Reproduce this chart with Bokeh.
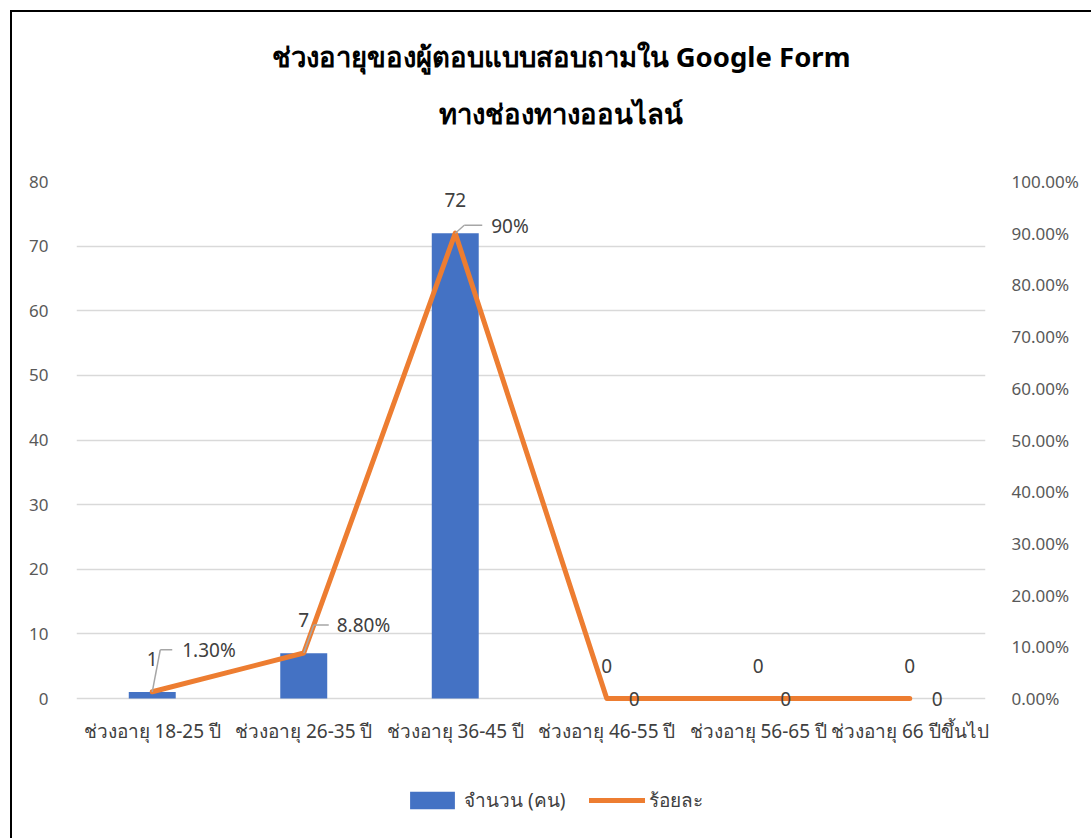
from bokeh.plotting import figure
from bokeh.models import (Range1d, LinearAxis, FixedTicker, NumeralTickFormatter,
                          ColumnDataSource, LabelSet, Legend, LegendItem, Title)
from bokeh.core.properties import value
from bokeh.embed import file_html
from bokeh.resources import INLINE

# ---- data ----
categories = ["ช่วงอายุ 18-25 ปี", "ช่วงอายุ 26-35 ปี", "ช่วงอายุ 36-45 ปี",
              "ช่วงอายุ 46-55 ปี", "ช่วงอายุ 56-65 ปี", "ช่วงอายุ 66 ปีขึ้นไป"]
counts = [1, 7, 72, 0, 0, 0]
percents = [0.013, 0.088, 0.90, 0.0, 0.0, 0.0]
count_labels = ["1", "7", "72", "0", "0", "0"]
percent_labels = ["1.30%", "8.80%", "90%", "0", "0", "0"]
left_ticks = [0, 10, 20, 30, 40, 50, 60, 70, 80]
right_ticks = [0.0, 0.1, 0.2, 0.3, 0.4, 0.5, 0.6, 0.7, 0.8, 0.9, 1.0]
title_line1 = "ช่วงอายุของผู้ตอบแบบสอบถามใน Google Form"
title_line2 = "ทางช่องทางออนไลน์"
series_names = ["จำนวน (คน)", "ร้อยละ"]

# ---- layout / style ----
MARGIN = 10
FRAME_L, FRAME_T, FRAME_W = 76, 181, 909
PLOT_H = 517               # height of the 0..80 value band
PAD_B = 114                # frame continues below zero: room for labels + legend
FRAME_H = PLOT_H + PAD_B
BORDER_L = FRAME_L - MARGIN
BORDER_T = FRAME_T - MARGIN
BORDER_R = 1091 - FRAME_L - FRAME_W
BORDER_B = 838 - FRAME_T - FRAME_H
XLABEL_STANDOFF = -101
BAR_COLOR = "#4472C4"
LINE_COLOR = "#ED7D31"
TXT = "#404040"
AX_TXT = "#595959"
THAI_FONT = "Noto Sans"
NUM_FONT = "Noto Sans"

n = len(categories)
xs = list(range(n))
px_x = FRAME_W / n          # pixels per x unit
px_p = PLOT_H / 1.0         # pixels per percent unit (0..1)
px_c = PLOT_H / 80.0        # pixels per count unit

# label offsets in pixels (left edge, vertical centre)
pct_dx = [30, 33, 36, 22, 22, 22]
pct_dy = [42, 28, 7, 0, 0, 0]
# leader lines (pixel offsets): elbow & end point
lead_ex = [8, 10, 9]
lead_ey = [42, 28, 8]
lead_hx = [20, 25, 27]

src = ColumnDataSource(dict(x=xs, count=counts, pct=percents,
                            clab=count_labels, plab=percent_labels,
                            pdx=pct_dx, pdy=pct_dy, cdy=[33] * n))

p = figure(frame_width=FRAME_W, frame_height=FRAME_H,
           x_range=Range1d(-0.5, n - 0.5), y_range=Range1d(-PAD_B / px_c, 80),
           output_backend="svg", toolbar_location=None,
           min_border_left=BORDER_L, min_border_right=BORDER_R,
           min_border_top=BORDER_T, min_border_bottom=BORDER_B)
p.margin = (MARGIN, 0, 0, MARGIN)
p.styles = {"box-shadow": "inset 2px 2px 0 0 black"}
p.extra_y_ranges = {"pct": Range1d(-PAD_B / px_p, 1)}
p.outline_line_color = None
p.background_fill_color = "white"
p.border_fill_color = None

# axes
p.xaxis.ticker = FixedTicker(ticks=xs)
p.xaxis.major_label_overrides = {i: c for i, c in enumerate(categories)}
p.xaxis.major_label_text_font = THAI_FONT
p.xaxis.major_label_text_font_size = "19px"
p.xaxis.major_label_text_color = TXT
p.xaxis.major_label_standoff = XLABEL_STANDOFF
p.yaxis.ticker = FixedTicker(ticks=left_ticks)
p.yaxis.major_label_text_font = NUM_FONT
p.yaxis.major_label_text_font_size = "17px"
p.yaxis.major_label_text_color = AX_TXT
p.yaxis.major_label_standoff = 22

rax = LinearAxis(y_range_name="pct", ticker=FixedTicker(ticks=right_ticks),
                 formatter=NumeralTickFormatter(format="0.00%"))
rax.major_label_text_font = NUM_FONT
rax.major_label_text_font_size = "17px"
rax.major_label_text_color = AX_TXT
rax.major_label_standoff = 20
p.add_layout(rax, "right")

for ax in [p.xaxis[0], p.yaxis[0], rax]:
    ax.axis_line_color = None
    ax.major_tick_line_color = None
    ax.minor_tick_line_color = None

p.xgrid.grid_line_color = None
p.ygrid.ticker = FixedTicker(ticks=left_ticks)
p.ygrid.grid_line_color = "#d9d9d9"
p.ygrid.grid_line_width = 1.5

# glyphs
bars = p.vbar(x="x", top="count", width=0.31, source=src, fill_color=BAR_COLOR,
              line_color=None)
line = p.line(x="x", y="pct", source=src, y_range_name="pct", line_color=LINE_COLOR,
              line_width=5, line_join="round", line_cap="round")

# leader lines
lx0, ly0, lx1, ly1, lx2, ly2 = [], [], [], [], [], []
for i in range(3):
    lx0.append(xs[i]); ly0.append(percents[i])
    ex = xs[i] + lead_ex[i] / px_x
    ey = percents[i] + lead_ey[i] / px_p
    hx = xs[i] + lead_hx[i] / px_x
    lx1.append(ex); ly1.append(ey); lx2.append(hx); ly2.append(ey)
p.segment(x0=lx0, y0=ly0, x1=lx1, y1=ly1, y_range_name="pct", line_color="#a6a6a6", line_width=1.5)
p.segment(x0=lx1, y0=ly1, x1=lx2, y1=ly2, y_range_name="pct", line_color="#a6a6a6", line_width=1.5)

# data labels
p.add_layout(LabelSet(x="x", y="count", text="clab", source=src, y_offset="cdy",
                      text_align="center", text_baseline="middle",
                      text_font=value(NUM_FONT), text_font_size="19px", text_color=TXT))
p.add_layout(LabelSet(x="x", y="pct", text="plab", source=src, y_range_name="pct",
                      x_offset="pdx", y_offset="pdy",
                      text_align="left", text_baseline="middle",
                      text_font=value(NUM_FONT), text_font_size="19px", text_color=TXT))

# titles: stacked top->bottom: line 1, line 2, spacer next to the frame
p.title.text = title_line1
p.title.align = "left"
p.title.offset = 195
p.title.text_font = THAI_FONT
p.title.text_font_size = "27.5px"
p.title.text_font_style = "bold"
p.title.text_color = "black"
p.title.standoff = 36
p.add_layout(Title(text=" ", align="left", text_font_size="27.5px", standoff=17), "above")
p.add_layout(Title(text=title_line2, align="left", offset=362, text_font=THAI_FONT,
                   text_font_size="27.5px", text_font_style="bold", text_color="black",
                   standoff=0), "above")

# legend (inside the lower, empty band of the frame)
legend = Legend(items=[LegendItem(label=series_names[0], renderers=[bars]),
                       LegendItem(label=series_names[1], renderers=[line])],
                orientation="horizontal", location=(328, -3),
                glyph_width=56, glyph_height=22, label_standoff=4, spacing=24,
                label_text_font=THAI_FONT, label_text_font_size="19px",
                label_text_color=TXT, border_line_color=None,
                background_fill_alpha=0, margin=0, padding=0)
p.add_layout(legend, "center")

open("out.html", "w").write(file_html(p, INLINE))
